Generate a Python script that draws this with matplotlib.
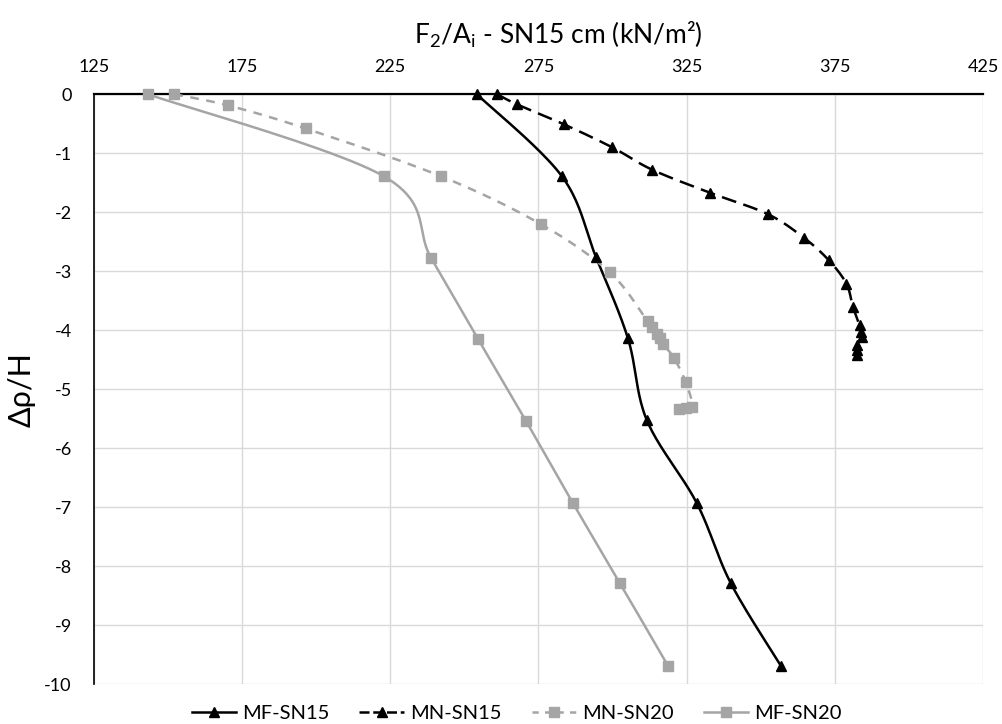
import numpy as np
import matplotlib
matplotlib.use("Agg")
import matplotlib.pyplot as plt
from matplotlib.lines import Line2D

plt.rcParams['font.family'] = ['Lato', 'DejaVu Sans']
plt.rcParams['axes.unicode_minus'] = False

# ---- data ----
mf15_x = [254.2, 282.9, 294.4, 305.2, 311.6, 328.4, 339.9, 356.8]
mf15_y = [0, -1.39, -2.76, -4.14, -5.53, -6.93, -8.29, -9.69]

mn15_x = [261.1, 267.7, 283.6, 299.9, 313.4, 332.9, 352.3, 364.5, 372.9, 378.9,
          381.1, 383.4, 384.0, 384.3, 382.5, 382.5, 382.5]
mn15_y = [0, -0.17, -0.51, -0.90, -1.28, -1.67, -2.03, -2.43, -2.81, -3.21,
          -3.60, -3.92, -4.03, -4.12, -4.25, -4.34, -4.42]

mn20_x = [152.1, 170.3, 196.4, 242.1, 275.7, 299.1, 311.8, 313.2, 314.9, 316.0,
          317.1, 320.7, 324.7, 326.9, 322.5, 324.7]
mn20_y = [0, -0.19, -0.58, -1.39, -2.20, -3.02, -3.85, -3.94, -4.06, -4.14,
          -4.24, -4.47, -4.88, -5.31, -5.33, -5.32]

mf20_x = [143.2, 222.8, 238.7, 254.6, 270.8, 286.6, 302.5, 318.7]
mf20_y = [0, -1.39, -2.77, -4.15, -5.54, -6.93, -8.29, -9.69]

x_ticks = [125, 175, 225, 275, 325, 375, 425]
y_ticks = list(range(0, -11, -1))
labels = ['MF-SN15', 'MN-SN15', 'MN-SN20', 'MF-SN20']


def smooth(x, y, n=24):
    """Excel-like smoothed line (Catmull-Rom Bezier)."""
    P = np.column_stack([x, y]).astype(float)
    out = [P[0]]
    t = np.linspace(0, 1, n)[1:, None]
    for i in range(len(P) - 1):
        p0 = P[i - 1] if i > 0 else P[i]
        p1, p2 = P[i], P[i + 1]
        p3 = P[i + 2] if i + 2 < len(P) else P[i + 1]
        c1 = p1 + (p2 - p0) / 6
        c2 = p2 - (p3 - p1) / 6
        seg = (1 - t) ** 3 * p1 + 3 * (1 - t) ** 2 * t * c1 + 3 * (1 - t) * t ** 2 * c2 + t ** 3 * p2
        out.extend(seg)
    return np.array(out)


fig = plt.figure(figsize=(10.03, 7.24), dpi=100)
ax = fig.add_axes([0.0937, 0.0552, 0.8863, 0.8146])

black = '#000000'
gray = '#A5A5A5'

series = [
    (mf15_x, mf15_y, black, '-', '^', 7.5, None),
    (mn15_x, mn15_y, black, '--', '^', 7.5, (6, 3)),
    (mn20_x, mn20_y, gray, '--', 's', 6.5, (3.5, 3)),
    (mf20_x, mf20_y, gray, '-', 's', 6.5, None),
]

handles = []
for (xs, ys, c, ls, mk, ms, dash), lab in zip(series, labels):
    s = smooth(xs, ys)
    line, = ax.plot(s[:, 0], s[:, 1], color=c, lw=1.8, ls=ls, zorder=3, clip_on=False)
    if dash is not None:
        line.set_dashes(dash)
    ax.plot(xs, ys, ls='none', marker=mk, ms=ms, color=c, mec=c, zorder=4, clip_on=False)
    h = Line2D([], [], color=c, lw=1.8, ls=ls, marker=mk, ms=ms, mec=c)
    if dash is not None:
        h.set_dashes((2.5, 2.5) if c == gray else (4, 1.5))
    handles.append(h)

ax.set_xlim(125, 425)
ax.set_ylim(-10, 0)
ax.set_xticks(x_ticks)
ax.set_yticks(y_ticks)
ax.xaxis.tick_top()
ax.xaxis.set_label_position('top')
ax.tick_params(axis='both', length=0, labelsize=13, colors='#000000')
ax.tick_params(axis='x', pad=14)
ax.tick_params(axis='y', pad=16)

ax.grid(True, color='#D9D9D9', lw=1.0, zorder=0)
ax.set_axisbelow(True)
for side in ['right', 'bottom']:
    ax.spines[side].set_visible(False)
ax.spines['top'].set_color('#000000')
ax.spines['top'].set_linewidth(1.6)
ax.spines['top'].set_zorder(2.5)
ax.spines['left'].set_color('#000000')
ax.spines['left'].set_linewidth(1.2)

ax.set_xlabel(r'F$_\mathregular{2}$/A$_\mathregular{i}$ - SN15 cm (kN/m²)', fontsize=19, labelpad=11)
ax.xaxis.label.set_x(0.522)
ax.set_ylabel('Δρ/H', fontsize=22, labelpad=6)

fig.legend(handles, labels, loc='center', bbox_to_anchor=(0.515, 0.015), ncol=4,
           frameon=False, fontsize=14.5, handlelength=2.2, handletextpad=0.3,
           columnspacing=1.5, borderaxespad=0)

fig.savefig('out.png', dpi=100)
